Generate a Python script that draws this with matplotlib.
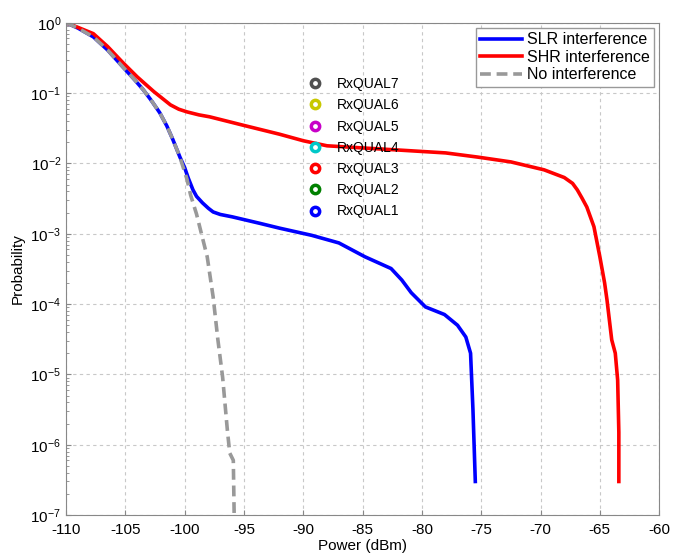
import matplotlib
matplotlib.use('Agg')
import matplotlib.pyplot as plt
from matplotlib.lines import Line2D

plt.rcParams['font.family'] = ['Liberation Sans', 'DejaVu Sans']
plt.rcParams['mathtext.fontset'] = 'custom'
plt.rcParams['mathtext.rm'] = 'Liberation Sans'
plt.rcParams['mathtext.it'] = 'Liberation Sans'
plt.rcParams['axes.unicode_minus'] = False

# SLR interference
slr_power = [-110, -109.0, -107.7, -106.5, -105.2, -104.3, -103.5, -102.8, -102.1, -101.5,
             -101.0, -100.4, -100.0, -99.7, -99.3, -99.0, -98.5, -98.0, -97.6, -97.0,
             -96.0, -93.7, -92.0, -89.3, -87.0, -84.8, -82.6, -81.7, -80.9, -79.7,
             -78.1, -77.0, -76.3, -75.9, -75.7, -75.5]
slr_prob = [1.0, 0.84, 0.63, 0.41, 0.234, 0.16, 0.112, 0.078, 0.0525, 0.034,
            0.0219, 0.0123, 0.0087, 0.0062, 0.0042, 0.0034, 0.00275, 0.0023, 0.00204, 0.00188,
            0.00174, 0.00141, 0.0012, 0.00095, 0.00074, 0.00047, 0.00032, 0.00022, 0.000145, 9.1e-5,
            7.1e-5, 5.0e-5, 3.4e-5, 2.0e-5, 3.2e-6, 3.0e-7]

# SHR interference
shr_power = [-110, -109.0, -107.7, -106.5, -105.2, -104.0, -102.6, -101.2, -100.5, -99.8,
             -98.8, -97.9, -95.1, -92.0, -90.0, -88.0, -85.0, -82.0, -78.0, -75.3,
             -72.5, -69.7, -68.0, -67.3, -66.9, -66.5, -66.1, -65.5, -65.0, -64.6,
             -64.4, -64.0, -63.7, -63.5, -63.4, -63.4]
shr_prob = [1.0, 0.86, 0.70, 0.46, 0.27, 0.17, 0.105, 0.068, 0.059, 0.054,
            0.049, 0.046, 0.035, 0.026, 0.021, 0.0178, 0.0166, 0.0155, 0.0141, 0.0123,
            0.0105, 0.0081, 0.0063, 0.0052, 0.0042, 0.0032, 0.0024, 0.00126, 4.7e-4, 2.0e-4,
            1.15e-4, 3.1e-5, 2.0e-5, 8.3e-6, 1.5e-6, 3.0e-7]

# No interference
no_power = [-110, -109.0, -107.7, -106.5, -105.2, -104.3, -103.5, -102.8, -102.1, -101.5,
            -101.0, -100.4, -99.8, -99.5, -99.0, -98.1, -97.6, -97.2, -96.8, -96.4,
            -96.2, -95.9, -95.8]
no_prob = [1.0, 0.84, 0.63, 0.41, 0.234, 0.16, 0.112, 0.078, 0.0525, 0.034,
           0.0219, 0.0123, 0.0059, 0.00355, 0.0019, 4.7e-4, 1.26e-4, 3.1e-5, 9.1e-6, 1.6e-6,
           7.6e-7, 6.0e-7, 5e-8]

rxqual_labels = ['RxQUAL7', 'RxQUAL6', 'RxQUAL5', 'RxQUAL4', 'RxQUAL3', 'RxQUAL2', 'RxQUAL1']
rxqual_colors = ['#505050', '#c8c800', '#c800c8', '#00c8c8', '#ff0000', '#008000', '#0000ff']

fig = plt.figure(figsize=(6.74, 5.55), dpi=100)
ax = fig.add_axes([0.098, 0.072, 0.88, 0.887])

l1, = ax.plot(slr_power, slr_prob, color='#0000ff', lw=2.6, label='SLR interference')
l2, = ax.plot(shr_power, shr_prob, color='#ff0000', lw=2.6, label='SHR interference')
l3, = ax.plot(no_power, no_prob, color='#999999', lw=2.6, ls=(0, (3, 1.6)),
              label='No interference')

ax.set_yscale('log')
ax.set_xlim(-110, -60)
ax.set_ylim(1e-7, 1)
ax.set_xticks(range(-110, -59, 5))
ax.set_yticks([10.0 ** k for k in range(-7, 1)])

ax.grid(True, which='major', color='#c8c8c8', ls=(0, (3, 3)), lw=0.8)
ax.set_axisbelow(True)
ax.tick_params(which='both', direction='in', labelsize=11, color='#888888')
ax.tick_params(axis='x', pad=6)
for s in ax.spines.values():
    s.set_color('#888888')
    s.set_linewidth(0.8)

ax.set_xlabel('Power (dBm)', fontsize=11, labelpad=1)
ax.set_ylabel('Probability', fontsize=11, labelpad=4)

leg1 = ax.legend(handles=[l1, l2, l3], loc='upper right', fontsize=11.5, fancybox=False,
                 edgecolor='#999999', framealpha=1, borderaxespad=0.3, handlelength=2.6,
                 handletextpad=0.3, labelspacing=0.15, borderpad=0.3)
ax.add_artist(leg1)

handles = [Line2D([], [], ls='none', marker='o', ms=6, mfc='white', mec=c, mew=2.5)
           for c in rxqual_colors]
ax.legend(handles, rxqual_labels, loc='upper left', bbox_to_anchor=(0.375, 0.915),
          frameon=False, fontsize=10, handletextpad=0.6, labelspacing=0.52)

plt.savefig('out.png', dpi=100, facecolor='white')
plt.close()
